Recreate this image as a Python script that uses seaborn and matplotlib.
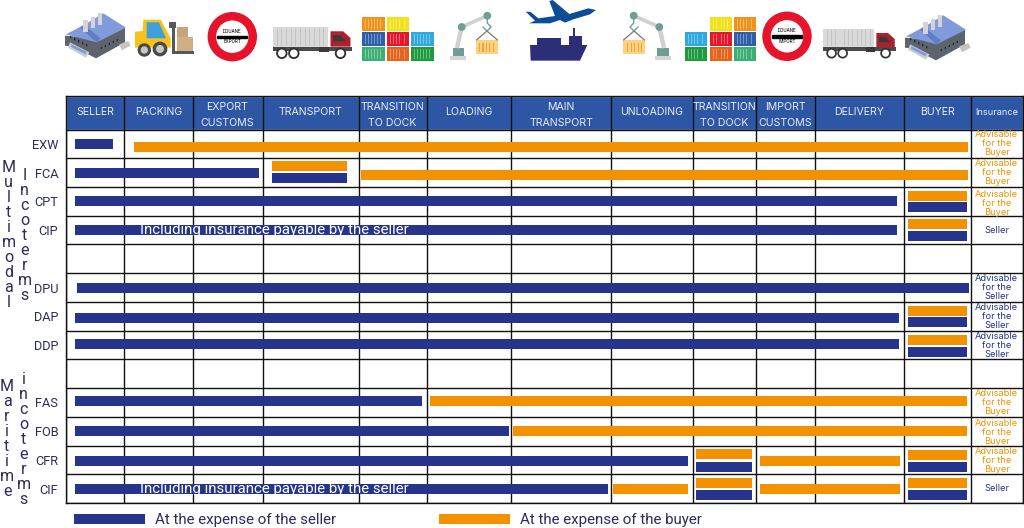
"""
plot.py - Incoterms responsibility chart (who pays for each transport stage).
"""

import numpy as np
import pandas as pd
import matplotlib
matplotlib.use("Agg")
import matplotlib.pyplot as plt
from matplotlib.patches import Circle, Polygon, Rectangle
import seaborn as sns

# ---- chart data ----
SELLER = "At the expense of the seller"
BUYER = "At the expense of the buyer"

stages = ["SELLER", "PACKING", "EXPORT\nCUSTOMS", "TRANSPORT", "TRANSITION\nTO DOCK", "LOADING",
          "MAIN\nTRANSPORT", "UNLOADING", "TRANSITION\nTO DOCK", "IMPORT\nCUSTOMS", "DELIVERY", "BUYER"]
terms = ["EXW", "FCA", "CPT", "CIP", "", "DPU", "DAP", "DDP", "", "FAS", "FOB", "CFR", "CIF"]

# one entry per bar; start/end are in stage units, lane is the shift inside the row
seg_term = ["EXW", "EXW", "FCA", "FCA", "FCA", "FCA", "CPT", "CPT", "CPT", "CIP", "CIP", "CIP", "DPU",
            "DAP", "DAP", "DAP", "DDP", "DDP", "DDP", "FAS", "FAS", "FOB", "FOB",
            "CFR", "CFR", "CFR", "CFR", "CFR", "CFR", "CIF", "CIF", "CIF", "CIF", "CIF", "CIF", "CIF"]
seg_party = ["S", "B", "S", "B", "S", "B", "S", "B", "S", "S", "B", "S", "S",
             "S", "B", "S", "S", "B", "S", "S", "B", "S", "B",
             "S", "B", "S", "B", "B", "S", "S", "B", "B", "S", "B", "B", "S"]
seg_start = [0.16, 1.14, 0.16, 3.10, 3.10, 4.04, 0.16, 11.06, 11.06, 0.16, 11.06, 11.06, 0.18,
             0.16, 11.06, 11.06, 0.16, 11.06, 11.06, 0.16, 5.04, 0.16, 6.02,
             0.16, 8.06, 8.06, 9.06, 11.06, 11.06, 0.16, 7.03, 8.06, 8.06, 9.06, 11.06, 11.06]
seg_end = [0.81, 11.96, 2.95, 3.88, 3.88, 11.96, 10.92, 11.95, 11.95, 10.92, 11.95, 11.95, 11.97,
           10.94, 11.95, 11.95, 10.94, 11.95, 11.95, 4.94, 11.95, 5.98, 11.95,
           7.94, 8.94, 8.94, 10.96, 11.95, 11.95, 6.97, 7.95, 8.94, 8.94, 10.96, 11.95, 11.95]
seg_lane = [0.00, 0.11, 0.00, -0.23, 0.20, 0.08, 0.00, -0.20, 0.21, 0.00, -0.20, 0.22, 0.00,
            0.06, -0.19, 0.21, -0.03, -0.17, 0.23, -0.04, -0.04, -0.01, -0.01,
            0.03, -0.20, 0.25, 0.03, -0.17, 0.24, 0.02, 0.00, -0.20, 0.23, 0.02, -0.18, 0.22]

insurance_terms = ["EXW", "FCA", "CPT", "CIP", "DPU", "DAP", "DDP", "FAS", "FOB", "CFR", "CIF"]
insurance_text = ["Advisable\nfor the\nBuyer", "Advisable\nfor the\nBuyer", "Advisable\nfor the\nBuyer", "Seller",
                  "Advisable\nfor the\nSeller", "Advisable\nfor the\nSeller", "Advisable\nfor the\nSeller",
                  "Advisable\nfor the\nBuyer", "Advisable\nfor the\nBuyer", "Advisable\nfor the\nBuyer", "Seller"]
insurance_shift = [0.00, 0.01, 0.07, 0.02, 0.00, 0.02, 0.02, 0.00, 0.05, 0.03, 0.00]

NAVY = "#26348b"
ORANGE = "#f39200"
HEADER = "#2d56a4"
INK = "#2c2a5f"

# column and row edges of the table, in pixels
col_edges = [66, 124.5, 192.5, 262.5, 358.5, 426.5, 511, 611, 692.5, 756, 815, 904, 970.5, 1023]
W, H = 1024, 528
TOP, HEAD_BOTTOM, BOTTOM = 96, 129.5, 503


def stage_to_px(s):
    return np.interp(s, np.arange(len(col_edges)), col_edges)


def px_to_stage(x):
    return np.interp(x, col_edges, np.arange(len(col_edges)))


def poly(ax, pts, color, ox=0, oy=0, sx=1, sy=1, z=2, **kw):
    pts = [(ox + sx * x, oy + sy * y) for x, y in pts]
    ax.add_patch(Polygon(pts, closed=True, facecolor=color, edgecolor="none", zorder=z, **kw))


def draw_factory(ax, ox, oy):
    # local coordinates are pixels relative to the icon's crop
    s = 1 / 3
    k = dict(ox=ox, oy=oy, sx=s, sy=s)
    poly(ax, [(15, 92), (15, 122), (40, 125), (108, 160), (195, 112), (195, 68), (110, 100)], "#5d646e", **k)
    poly(ax, [(18, 88), (75, 58), (130, 25), (198, 68), (110, 112)], "#7f9bdb", **k)
    poly(ax, [(60, 68), (72, 60), (122, 100), (110, 112)], "#5f7cc4", **k)
    poly(ax, [(30, 112), (88, 142), (78, 158), (24, 128)], "#c9ccd2", **k)
    poly(ax, [(35, 118), (80, 140), (76, 148), (32, 125)], "#7f9bdb", **k)
    poly(ax, [(178, 118), (205, 108), (212, 122), (185, 136)], "#c7c4bd", **k)
    for cx, cy in [(77, 46), (99, 36), (120, 25)]:
        poly(ax, [(cx - 7, cy), (cx + 7, cy), (cx + 7, cy + 34), (cx - 7, cy + 34)], "#d2d4d8", **k)
    for i in range(5):
        poly(ax, [(30 + 12 * i, 92 + 6 * i), (34 + 12 * i, 94 + 6 * i), (34 + 12 * i, 101 + 6 * i), (30 + 12 * i, 99 + 6 * i)], "#22262c", **k)
    for i in range(5):
        poly(ax, [(122 + 12 * i, 127 - 6 * i), (126 + 12 * i, 125 - 6 * i), (126 + 12 * i, 131 - 6 * i), (122 + 12 * i, 133 - 6 * i)], "#22262c", **k)


def draw_forklift(ax):
    k = dict(ox=60, oy=5, sx=1 / 3, sy=1 / 3)
    poly(ax, [(350, 65), (385, 65), (385, 97), (350, 97)], "#c9a47a", **k)
    poly(ax, [(350, 97), (398, 97), (398, 138), (350, 138)], "#d2ae85", **k)
    poly(ax, [(328, 52), (348, 52), (348, 70), (345, 70), (345, 138), (402, 138), (402, 146), (335, 146), (335, 70), (328, 70)], "#55585c", **k)
    poly(ax, [(250, 44), (302, 44), (332, 100), (332, 128), (225, 128), (225, 80), (248, 78)], "#f6c21c", **k)
    poly(ax, [(260, 52), (297, 52), (318, 100), (260, 100)], "#3f9fdc", **k)
    for cx, cy, r in [(253, 135, 18), (300, 132, 20)]:
        ax.add_patch(Circle((60 + cx / 3, 5 + cy / 3), r / 3, color="#4a4a4a", zorder=3))
        ax.add_patch(Circle((60 + cx / 3, 5 + cy / 3), r / 6, color="#c8c8c8", zorder=4))


def draw_customs(ax, cx, cy, label):
    ax.add_patch(Circle((cx, cy), 24, color="#e5142b", zorder=2))
    ax.add_patch(Circle((cx, cy), 15.5, color="white", zorder=3))
    ax.add_patch(Rectangle((cx - 15, cy - 1), 30, 2.2, color="black", zorder=4))
    ax.text(cx, cy - 5.5, "DOUANE", ha="center", va="center", fontsize=3.4, color="black", zorder=5)
    ax.text(cx, cy + 5, label, ha="center", va="center", fontsize=3.4, color="black", zorder=5)


def draw_truck(ax, ox, oy, s):
    k = dict(ox=ox, oy=oy, sx=s / 3, sy=s / 3)
    poly(ax, [(0, 0), (167, 0), (167, 58), (0, 58)], "#d9d9d9", **k)
    for x in range(12, 165, 14):
        poly(ax, [(x, 3), (x + 3, 3), (x + 3, 56), (x, 56)], "#c4c4c4", **k)
    poly(ax, [(0, 58), (237, 58), (237, 72), (0, 72)], "#4a4a4a", **k)
    poly(ax, [(140, 58), (170, 58), (170, 75), (140, 75)], "#3a3a3a", **k)
    poly(ax, [(174, 12), (212, 12), (234, 32), (234, 58), (174, 58)], "#b01f2e", **k)
    poly(ax, [(182, 24), (205, 24), (220, 42), (182, 42)], "#3a3a3a", **k)
    for wx in [28, 64, 204]:
        cx, cy = ox + s * wx / 3, oy + s * 78 / 3
        ax.add_patch(Circle((cx, cy), 5.0 * s, color="#333333", zorder=3))
        ax.add_patch(Circle((cx, cy), 3.1 * s, color="white", zorder=4))


def draw_containers(ax, xs, ys, colors):
    w, h = 22.3, 13.3
    for j, row in enumerate(colors):
        for i, c in enumerate(row):
            if c is None:
                continue
            ax.add_patch(Rectangle((xs[i], ys[j]), w, h, facecolor=c, edgecolor="none", zorder=2))
            for sx in np.arange(xs[i] + 3, xs[i] + w - 2, 2.9):
                ax.add_patch(Rectangle((sx, ys[j] + 1.5), 0.9, h - 3, facecolor="white", alpha=0.35, edgecolor="none", zorder=3))


def draw_robot(ax, mirror=False):
    def mx(x):
        return 1121 - x if mirror else x
    base = [(450, 56), (466, 56), (466, 60), (450, 60)]
    poly(ax, [(mx(x), y) for x, y in base], "#d5d5d5")
    box = [(452.5, 48), (464, 48), (464, 56), (452.5, 56)]
    poly(ax, [(mx(x), y) for x, y in box], "#6f9e96")
    ax.plot([mx(457), mx(461.7)], [48, 27], color="#d0d0d0", lw=3.2, solid_capstyle="butt", zorder=3)
    ax.plot([mx(461.7), mx(487.3)], [27, 15.7], color="#d0d0d0", lw=2.6, solid_capstyle="butt", zorder=3)
    for x, y in [(461.7, 27), (487.3, 15.7)]:
        ax.add_patch(Circle((mx(x), y), 3.2, color="#6f9e96", zorder=4))
    ax.plot([mx(487.3), mx(487.3), mx(491), mx(487), mx(483)], [15.7, 23, 27, 31, 27], color="#6f9e96", lw=1.0, zorder=3)
    ax.plot([mx(476.5), mx(487), mx(497.5)], [40, 31, 40], color="#777777", lw=0.9, zorder=3)
    cont = [(476, 40), (498, 40), (498, 54), (476, 54)]
    poly(ax, [(mx(x), y) for x, y in cont], "#fcd27e")
    for sx in np.arange(479, 496, 3.4):
        poly(ax, [(mx(sx), 43), (mx(sx + 1.1), 43), (mx(sx + 1.1), 52), (mx(sx), 52)], "#f0a23c", z=3)


def draw_plane_ship(ax):
    k = dict(ox=520, oy=0, sx=1 / 3, sy=1 / 3)
    poly(ax, [(17, 35), (32, 36), (55, 55), (105, 48), (88, 3), (98, 0), (148, 42), (205, 25), (228, 30),
              (210, 43), (160, 58), (135, 68), (120, 60), (90, 70), (28, 70), (45, 62)], "#0f4c96", **k)
    poly(ax, [(30, 135), (202, 135), (180, 182), (32, 182)], "#2c2f78", **k)
    poly(ax, [(52, 115), (122, 115), (122, 135), (52, 135)], "#2c2f78", **k)
    poly(ax, [(148, 108), (185, 108), (185, 135), (148, 135)], "#2c2f78", **k)
    poly(ax, [(158, 85), (166, 85), (166, 108), (158, 108)], "#2c2f78", **k)


sns.set_theme(style="white")
plt.rcParams["font.family"] = ["Roboto", "DejaVu Sans"]

fig = plt.figure(figsize=(W / 100, H / 100), dpi=100)
fig.patch.set_facecolor("white")

# the table axes: x in stage units (column widths come from the scale), y in rows
row_h = (BOTTOM - HEAD_BOTTOM) / len(terms)
y_top = -0.5 - (HEAD_BOTTOM - TOP) / row_h
ax = fig.add_axes([col_edges[0] / W, 1 - BOTTOM / H, (col_edges[-1] - col_edges[0]) / W, (BOTTOM - TOP) / H])

seg = pd.DataFrame({"term": seg_term, "party": seg_party, "start": seg_start, "end": seg_end, "lane": seg_lane})
seg["seg"] = seg.index
seg["y"] = seg["term"].map({t: i for i, t in enumerate(terms) if t}) + seg["lane"]
seg["party"] = seg["party"].map({"S": SELLER, "B": BUYER})
long_df = seg.melt(id_vars=["seg", "party", "y"], value_vars=["start", "end"], value_name="stage")

ax.set_xscale("function", functions=(stage_to_px, px_to_stage))
sns.lineplot(data=long_df, x="stage", y="y", hue="party", units="seg", estimator=None,
             hue_order=[SELLER, BUYER], palette={SELLER: NAVY, BUYER: ORANGE},
             linewidth=7.2, solid_capstyle="butt", zorder=3, ax=ax)

ax.set_xlim(0, len(col_edges) - 1)
ax.set_ylim(len(terms) - 0.5, y_top)
ax.set_xlabel("")
ax.set_ylabel("")

# grid lines are the table's cell borders
ax.set_xticks(np.arange(len(col_edges)))
ax.set_xticklabels([])
ax.set_yticks(np.arange(len(terms)))
ax.set_yticklabels(terms, color=INK, fontsize=9.2)
ax.set_yticks(np.arange(len(terms) + 1) - 0.5, minor=True)
ax.tick_params(axis="both", which="both", length=0, pad=5.6)
ax.xaxis.grid(True, color="#111111", lw=1.0)
ax.yaxis.grid(True, which="minor", color="#111111", lw=1.0)
ax.yaxis.grid(False, which="major")
ax.set_axisbelow(True)
for sp in ax.spines.values():
    sp.set_visible(True)
    sp.set_color("#111111")
    sp.set_linewidth(1.0)

# header band and texts
ax.axhspan(y_top, -0.5, facecolor=HEADER, zorder=0.2)
for i, name in enumerate(stages):
    two = "\n" in name
    ax.text(i + 0.5, -1.01 if two else -1.12, name, ha="center", va="center", color="#e9eef8",
            fontsize=7.6, family="Inter", linespacing=1.68 if two else 1)
ax.text(12.5, -1.10, "Insurance", ha="center", va="center", color="#e9eef8", fontsize=6.6, family="Inter")

# insurance column
for term, txt, shift in zip(insurance_terms, insurance_text, insurance_shift):
    row = terms.index(term)
    color = ORANGE if "Buyer" in txt else NAVY
    ax.text(12.5, row + shift, txt, ha="center", va="center", color=color, fontsize=6.7,
            family="Inter", linespacing=1.0, zorder=4)

for term in ["CIP", "CIF"]:
    ax.text(1.23, terms.index(term), "Including insurance payable by the seller", ha="left", va="center",
            color="white", fontsize=10.8, zorder=4)

sns.move_legend(ax, "upper left", bbox_to_anchor=(0.0084, -0.025), ncol=2, frameon=False, title=None,
                handlelength=4.7, columnspacing=6.8, fontsize=10.9, labelcolor=INK, handletextpad=0.66,
                borderaxespad=0, borderpad=0)

# full-figure overlay in pixel coordinates for pictograms and side labels
over = fig.add_axes([0, 0, 1, 1], zorder=5)
over.set_xlim(0, W)
over.set_ylim(H, 0)
over.axis("off")
over.patch.set_alpha(0)

draw_factory(over, 60, 5)
draw_factory(over, 900, 7)
draw_forklift(over)
draw_customs(over, 232.3, 36.7, "EXPORT")
draw_customs(over, 787, 36.3, "IMPORT")
draw_truck(over, 272.5, 27.3, 1.0)
draw_truck(over, 823, 29.3, 0.92)
draw_containers(over, [362.3, 387, 411.3], [17.3, 32.3, 47.3],
                [["#f0931c", "#f2e21a", None], ["#2f5fa8", "#e3182d", "#30a8e0"], ["#3dae74", "#e8641b", "#1e9a3f"]])
draw_containers(over, [685, 709.7, 734], [17.3, 32.3, 47.3],
                [[None, "#f2e21a", "#f0931c"], ["#30a8e0", "#e3182d", "#2f5fa8"], ["#1e9a3f", "#e8641b", "#3dae74"]])
draw_robot(over)
draw_robot(over, mirror=True)
draw_plane_ship(over)

for word, x, y in [("Multimodal", 8.5, 167), ("Incoterms", 24.5, 175), ("Maritime", 7, 385.7), ("incoterms", 23.5, 379)]:
    over.text(x, y - 7, "\n".join(word), ha="center", va="top", color=INK, fontsize=11.5, linespacing=1.0)

plt.savefig("out.png", dpi=100, facecolor="white")
plt.close()
